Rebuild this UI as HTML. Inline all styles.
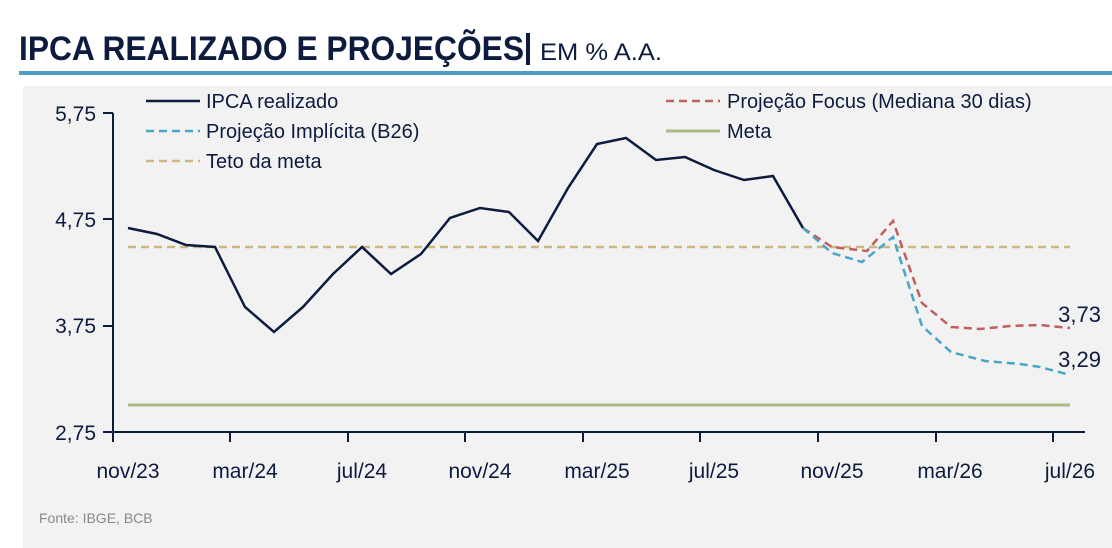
<!DOCTYPE html>
<html><head><meta charset="utf-8"><style>
html,body{margin:0;padding:0;background:#fff;width:1112px;height:548px;overflow:hidden;font-family:"Liberation Sans",sans-serif}
</style></head><body>
<svg width="1112" height="548" viewBox="0 0 1112 548" xmlns="http://www.w3.org/2000/svg" font-family="Liberation Sans, sans-serif">
<text x="19" y="60" font-size="34" font-weight="bold" fill="#0d1b3e" textLength="505" lengthAdjust="spacingAndGlyphs">IPCA REALIZADO E PROJEÇÕES</text>
<rect x="526" y="33" width="4" height="32" fill="#0d1b3e"/>
<text x="540" y="60" font-size="24" fill="#0d1b3e" textLength="122" lengthAdjust="spacingAndGlyphs">EM % A.A.</text>
<rect x="19" y="71" width="1093" height="4" fill="#4d9ec4"/>
<rect x="23" y="86" width="1089" height="462" fill="#f2f2f2"/>
<g fill="#0d1b3e" font-size="21">
<text x="96" y="121" text-anchor="end">5,75</text>
<text x="96" y="227" text-anchor="end">4,75</text>
<text x="96" y="333" text-anchor="end">3,75</text>
<text x="96" y="440" text-anchor="end">2,75</text>
</g>
<g fill="#0d1b3e" font-size="21" text-anchor="middle">
<text x="128" y="478">nov/23</text><text x="245" y="478">mar/24</text><text x="362" y="478">jul/24</text><text x="480" y="478">nov/24</text><text x="597" y="478">mar/25</text><text x="714" y="478">jul/25</text><text x="832" y="478">nov/25</text><text x="950" y="478">mar/26</text><text x="1070" y="478">jul/26</text>
</g>
<text x="39" y="523" font-size="14" fill="#888">Fonte: IBGE, BCB</text>
<g stroke="#0d1b3e" stroke-width="2" fill="none">
<line x1="113" y1="113" x2="113" y2="442"/>
<line x1="103" y1="432" x2="1085" y2="432"/>
<line x1="103" y1="113" x2="113" y2="113"/><line x1="103" y1="219" x2="113" y2="219"/><line x1="103" y1="326" x2="113" y2="326"/>
<line x1="230" y1="432" x2="230" y2="442"/><line x1="348" y1="432" x2="348" y2="442"/><line x1="465" y1="432" x2="465" y2="442"/><line x1="583" y1="432" x2="583" y2="442"/><line x1="700" y1="432" x2="700" y2="442"/><line x1="818" y1="432" x2="818" y2="442"/><line x1="936" y1="432" x2="936" y2="442"/><line x1="1053" y1="432" x2="1053" y2="442"/>
</g>
<line x1="128" y1="405" x2="1070" y2="405" stroke="#a9b98a" stroke-width="3"/>
<line x1="128" y1="247" x2="1070" y2="247" stroke="#cdb77e" stroke-width="2.5" stroke-dasharray="8,5"/>
<polyline fill="none" stroke="#c0605e" stroke-width="2.5" stroke-dasharray="8,5" points="803,228 832,247 867,251 893,221 922,303 951,327 980,329 1010,326 1040,325 1070,328"/>
<polyline fill="none" stroke="#49a6cb" stroke-width="2.5" stroke-dasharray="8,5" points="803,228 832,253 862,262 893,237 922,326 951,352 985,361 1020,364 1040,367 1070,375"/>
<polyline fill="none" stroke="#0d1b3e" stroke-width="2.5" points="128,228 157,234 186,245 215,247 245,307 274,332 303,307 333,274 362,247 391,274 421,254 450,218 480,208 509,212 538,241 568,188 597,144 626,138 656,160 685,157 714,170 744,180 773,176 803,228"/>
<g fill="#0d1b3e" font-size="22" text-anchor="end">
<text x="1101" y="322">3,73</text><text x="1101" y="367">3,29</text>
</g>
<g font-size="20" fill="#0d1b3e">
<line x1="146" y1="101" x2="200" y2="101" stroke="#0d1b3e" stroke-width="2.5"/>
<text x="206" y="108">IPCA realizado</text>
<line x1="146" y1="131" x2="200" y2="131" stroke="#49a6cb" stroke-width="2.5" stroke-dasharray="8,5"/>
<text x="206" y="138">Projeção Implícita (B26)</text>
<line x1="146" y1="161" x2="200" y2="161" stroke="#cdb77e" stroke-width="2.5" stroke-dasharray="8,5"/>
<text x="206" y="168">Teto da meta</text>
<line x1="666" y1="101" x2="720" y2="101" stroke="#c0605e" stroke-width="2.5" stroke-dasharray="8,5"/>
<text x="727" y="108">Projeção Focus (Mediana 30 dias)</text>
<line x1="666" y1="131" x2="720" y2="131" stroke="#a9b98a" stroke-width="3"/>
<text x="727" y="138">Meta</text>
</g>
</svg>
</body></html>
